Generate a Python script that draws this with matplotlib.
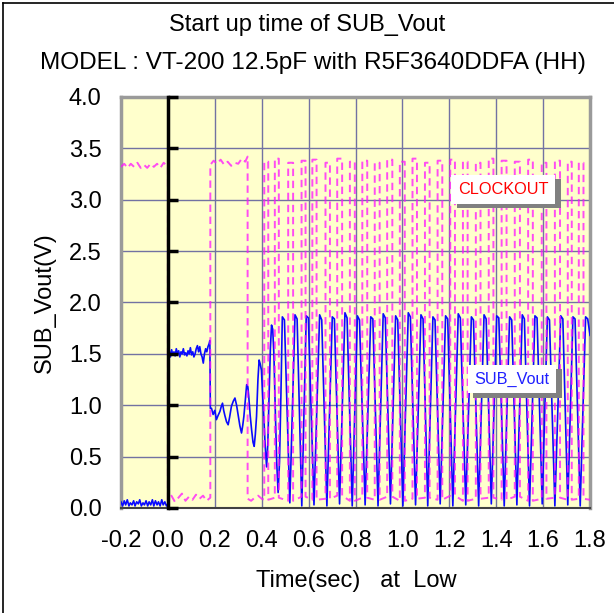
import matplotlib
matplotlib.use("Agg")
import matplotlib.pyplot as plt
import matplotlib.patheffects as pe
from matplotlib.lines import Line2D

plt.rcParams['font.family'] = ['Liberation Sans', 'DejaVu Sans']
plt.rcParams['axes.unicode_minus'] = False

# --- SUB_Vout (blue) ---
sub_noise_t = [-0.200, -0.193, -0.186, -0.180, -0.173, -0.166, -0.160, -0.153, -0.146, -0.140,
               -0.133, -0.126, -0.120, -0.113, -0.106, -0.100, -0.093, -0.086, -0.080, -0.073,
               -0.066, -0.060, -0.053, -0.046, -0.040, -0.033, -0.026, -0.020, -0.013, -0.006, 0.000]
sub_noise_v = [0.06, 0.02, 0.07, 0.03, 0.08, 0.02, 0.05, 0.03, 0.07, 0.02,
               0.06, 0.04, 0.08, 0.02, 0.05, 0.03, 0.07, 0.02, 0.06, 0.03,
               0.08, 0.02, 0.07, 0.03, 0.06, 0.02, 0.08, 0.03, 0.06, 0.02, 0.04]

sub_plateau_t = [0.001, 0.006, 0.011, 0.016, 0.021, 0.026, 0.031, 0.036, 0.041, 0.046,
                 0.051, 0.056, 0.061, 0.066, 0.071, 0.076, 0.081, 0.086, 0.091, 0.096,
                 0.101, 0.106, 0.111, 0.116, 0.121, 0.126, 0.131, 0.136, 0.141, 0.146,
                 0.151, 0.156, 0.161, 0.166, 0.171, 0.176, 0.179]
sub_plateau_v = [1.50, 1.53, 1.47, 1.54, 1.49, 1.52, 1.48, 1.55, 1.50, 1.53,
                 1.47, 1.52, 1.50, 1.55, 1.49, 1.51, 1.48, 1.53, 1.50, 1.56,
                 1.49, 1.52, 1.47, 1.50, 1.55, 1.58, 1.52, 1.57, 1.50, 1.47,
                 1.41, 1.50, 1.55, 1.52, 1.57, 1.60, 1.63]

sub_ring_t = [0.181, 0.186, 0.193, 0.200, 0.207, 0.214, 0.222, 0.228, 0.233, 0.238,
              0.243, 0.250, 0.257, 0.263, 0.271, 0.279, 0.286, 0.293, 0.300, 0.307,
              0.314, 0.319, 0.324, 0.330, 0.336, 0.341, 0.345, 0.351, 0.357, 0.363,
              0.368, 0.373, 0.378, 0.384, 0.389, 0.394, 0.399, 0.404, 0.409, 0.415,
              0.421, 0.426, 0.431, 0.437, 0.442, 0.447, 0.452, 0.458, 0.464, 0.470,
              0.476, 0.482]
sub_ring_v = [0.97, 0.97, 0.91, 0.95, 0.86, 0.90, 0.94, 0.99, 1.02, 0.95,
              0.90, 0.84, 0.81, 0.88, 0.99, 1.04, 1.07, 1.00, 0.90, 0.80,
              0.73, 0.80, 0.89, 1.05, 1.20, 1.18, 1.08, 0.90, 0.76, 0.64,
              0.60, 0.72, 0.89, 1.25, 1.44, 1.40, 1.34, 1.10, 0.89, 0.60,
              0.40, 0.62, 1.05, 1.55, 1.78, 1.74, 1.50, 0.95, 0.45, 0.15,
              0.45, 1.10]

top_l_t = [0.488, 0.542, 0.590, 0.647, 0.701, 0.755, 0.808, 0.865, 0.918, 0.971, 1.025, 1.079, 1.130,
           1.184, 1.238, 1.294, 1.348, 1.402, 1.457, 1.511, 1.565, 1.618, 1.675, 1.727, 1.781]
top_l_v = [1.86, 1.88, 1.87, 1.88, 1.86, 1.90, 1.87, 1.86, 1.89, 1.87, 1.90, 1.88, 1.86,
           1.87, 1.89, 1.86, 1.88, 1.87, 1.86, 1.88, 1.87, 1.86, 1.87, 1.86, 1.86]
top_r_t = [0.497, 0.551, 0.599, 0.656, 0.710, 0.764, 0.817, 0.874, 0.927, 0.980, 1.034, 1.088, 1.139,
           1.193, 1.247, 1.303, 1.357, 1.411, 1.466, 1.520, 1.574, 1.627, 1.684, 1.736, 1.790]
top_r_v = [1.83, 1.84, 1.85, 1.83, 1.84, 1.85, 1.83, 1.84, 1.85, 1.83, 1.86, 1.84, 1.83,
           1.84, 1.85, 1.83, 1.84, 1.85, 1.83, 1.84, 1.85, 1.83, 1.84, 1.84, 1.84]
trough_t = [0.520, 0.571, 0.623, 0.678, 0.732, 0.786, 0.841, 0.896, 0.949, 1.002, 1.056, 1.108,
            1.161, 1.215, 1.270, 1.325, 1.379, 1.434, 1.488, 1.542, 1.596, 1.650, 1.705, 1.758]
trough_v = [0.05, 0.02, 0.03, 0.02, 0.04, 0.02, 0.03, 0.02, 0.04, 0.02, 0.03, 0.02,
            0.04, 0.02, 0.03, 0.02, 0.04, 0.02, 0.03, 0.02, 0.04, 0.02, 0.03, 0.02]
sub_tail_t = [1.800]
sub_tail_v = [1.68]

# --- CLOCKOUT (magenta dashed) ---
clk_head_t = [-0.200, -0.186, -0.172, -0.158, -0.144, -0.130, -0.116, -0.102, -0.088, -0.074,
              -0.060, -0.046, -0.032, -0.018, -0.004, 0.000, 0.000, 0.015, 0.030, 0.045,
              0.060, 0.075, 0.090, 0.105, 0.120, 0.135, 0.150, 0.165, 0.181, 0.181,
              0.195, 0.210, 0.225, 0.240, 0.255, 0.270, 0.285, 0.300, 0.315, 0.330,
              0.340, 0.340, 0.355, 0.370, 0.385, 0.400]
clk_head_v = [3.32, 3.35, 3.31, 3.35, 3.32, 3.36, 3.31, 3.34, 3.31, 3.35,
              3.32, 3.35, 3.31, 3.36, 3.33, 3.33, 0.08, 0.12, 0.06, 0.10,
              0.14, 0.07, 0.11, 0.08, 0.13, 0.09, 0.12, 0.07, 0.10, 3.34,
              3.38, 3.35, 3.39, 3.34, 3.37, 3.33, 3.36, 3.35, 3.40, 3.37,
              3.42, 0.09, 0.07, 0.10, 0.12, 0.09]
clk_rise = [0.411, 0.456, 0.513, 0.570, 0.616, 0.672, 0.722, 0.776, 0.829, 0.882, 0.935, 0.989, 1.043,
            1.096, 1.150, 1.204, 1.258, 1.313, 1.368, 1.423, 1.479, 1.536, 1.594, 1.650, 1.705, 1.752]
clk_fall = [0.428, 0.473, 0.534, 0.587, 0.634, 0.691, 0.743, 0.797, 0.850, 0.903, 0.957, 1.010, 1.062,
            1.116, 1.170, 1.224, 1.278, 1.333, 1.388, 1.444, 1.501, 1.556, 1.614, 1.672, 1.722, 1.772]
clk_high = [3.37, 3.40, 3.36, 3.38, 3.39, 3.36, 3.40, 3.37, 3.38, 3.36, 3.39, 3.37, 3.40,
            3.36, 3.38, 3.39, 3.37, 3.36, 3.40, 3.38, 3.37, 3.39, 3.36, 3.38, 3.37, 3.36]
clk_low = [0.08, 0.10, 0.07, 0.11, 0.08, 0.09, 0.12, 0.07, 0.10, 0.08, 0.11, 0.07, 0.09,
           0.10, 0.08, 0.12, 0.07, 0.09, 0.10, 0.08, 0.11, 0.07, 0.09, 0.10, 0.08, 0.09]
clk_end_t = [1.800]
clk_end_v = [0.08]

xticks = [-0.2, 0.0, 0.2, 0.4, 0.6, 0.8, 1.0, 1.2, 1.4, 1.6, 1.8]
xtick_labels = ['-0.2', '0.0', '0.2', '0.4', '0.6', '0.8', '1.0', '1.2', '1.4', '1.6', '1.8']
yticks = [0.0, 0.5, 1.0, 1.5, 2.0, 2.5, 3.0, 3.5, 4.0]
ytick_labels = ['0.0', '0.5', '1.0', '1.5', '2.0', '2.5', '3.0', '3.5', '4.0']

# assemble vertex lists
sub_t = sub_noise_t + sub_plateau_t + sub_ring_t
sub_v = sub_noise_v + sub_plateau_v + sub_ring_v
for i in range(len(top_l_t)):
    sub_t += [top_l_t[i], top_r_t[i]]
    sub_v += [top_l_v[i], top_r_v[i]]
    if i < len(trough_t):
        sub_t.append(trough_t[i])
        sub_v.append(trough_v[i])
sub_t += sub_tail_t
sub_v += sub_tail_v

clk_t = list(clk_head_t)
clk_v = list(clk_head_v)
for r, f, hi, lo in zip(clk_rise, clk_fall, clk_high, clk_low):
    clk_t += [r, r, f, f]
    clk_v += [lo, hi, hi, lo]
clk_t += clk_end_t
clk_v += clk_end_v

fig = plt.figure(figsize=(6.14, 6.13), dpi=100)
ax = fig.add_axes([0.197, 0.1713, 0.764, 0.6705])
ax.set_facecolor('#ffffcc')

ax.set_xlim(-0.2, 1.8)
ax.set_ylim(0, 4)
ax.set_xticks(xticks)
ax.set_xticklabels(xtick_labels)
ax.set_yticks(yticks)
ax.set_yticklabels(ytick_labels)
ax.tick_params(axis='both', length=0, labelsize=17)
ax.tick_params(axis='x', pad=16)
ax.tick_params(axis='y', pad=14)
ax.grid(True, color='#7272a2', lw=1.0)
ax.set_axisbelow(True)

for side in ['left', 'top', 'right']:
    ax.spines[side].set_color('#9a9a9a')
    ax.spines[side].set_linewidth(2.5)
ax.spines['bottom'].set_color('#404040')
ax.spines['bottom'].set_linewidth(1.5)

ax.plot(sub_t, sub_v, color='#0a0aff', lw=1.2, zorder=3)
ax.plot(clk_t, clk_v, color='#ff10ff', lw=1.4, alpha=0.75,
        linestyle=(0, (3.8, 2.4)), zorder=4)

# y axis drawn at t = 0 with ticks pointing right
ax2 = ax.twinx()
ax2.set_ylim(0, 4)
ax2.set_yticks(yticks)
ax2.spines['right'].set_position(('data', 0))
ax2.spines['right'].set_color('black')
ax2.spines['right'].set_linewidth(2.5)
for side in ['left', 'top', 'bottom']:
    ax2.spines[side].set_visible(False)
ax2.tick_params(axis='y', direction='out', length=7, width=2.5, labelright=False)

t1 = ax.text(1.43, 3.10, 'CLOCKOUT', color='#ff0000', fontsize=11.7, ha='center', va='center',
             bbox=dict(boxstyle='square,pad=0.42', fc='white', ec='none'), zorder=6)
t1.get_bbox_patch().set_path_effects([pe.withSimplePatchShadow(offset=(4, -3), shadow_rgbFace='#808080', alpha=1.0)])
t2 = ax.text(1.467, 1.255, 'SUB_Vout', color='#2020ff', fontsize=11.7, ha='center', va='center',
             bbox=dict(boxstyle='square,pad=0.42', fc='white', ec='none'), zorder=6)
t2.get_bbox_patch().set_path_effects([pe.withSimplePatchShadow(offset=(4, -3), shadow_rgbFace='#808080', alpha=1.0)])

fig.text(0.5, 0.959, 'Start up time of SUB_Vout', ha='center', va='center', fontsize=17)
fig.text(0.51, 0.898, 'MODEL : VT-200 12.5pF with R5F3640DDFA (HH)', ha='center', va='center', fontsize=17.6)
fig.text(0.58, 0.053, 'Time(sec)   at  Low', ha='center', va='center', fontsize=17)
fig.text(0.073, 0.507, 'SUB_Vout(V)', ha='center', va='center', rotation=90, fontsize=17)

# outer chart frame (left and top edges visible)
fig.add_artist(Line2D([0.005, 0.005], [0, 0.995], transform=fig.transFigure, color='black', lw=1.2))
fig.add_artist(Line2D([0.005, 1.0], [0.995, 0.995], transform=fig.transFigure, color='black', lw=1.2))

fig.savefig('out.png', dpi=100)
